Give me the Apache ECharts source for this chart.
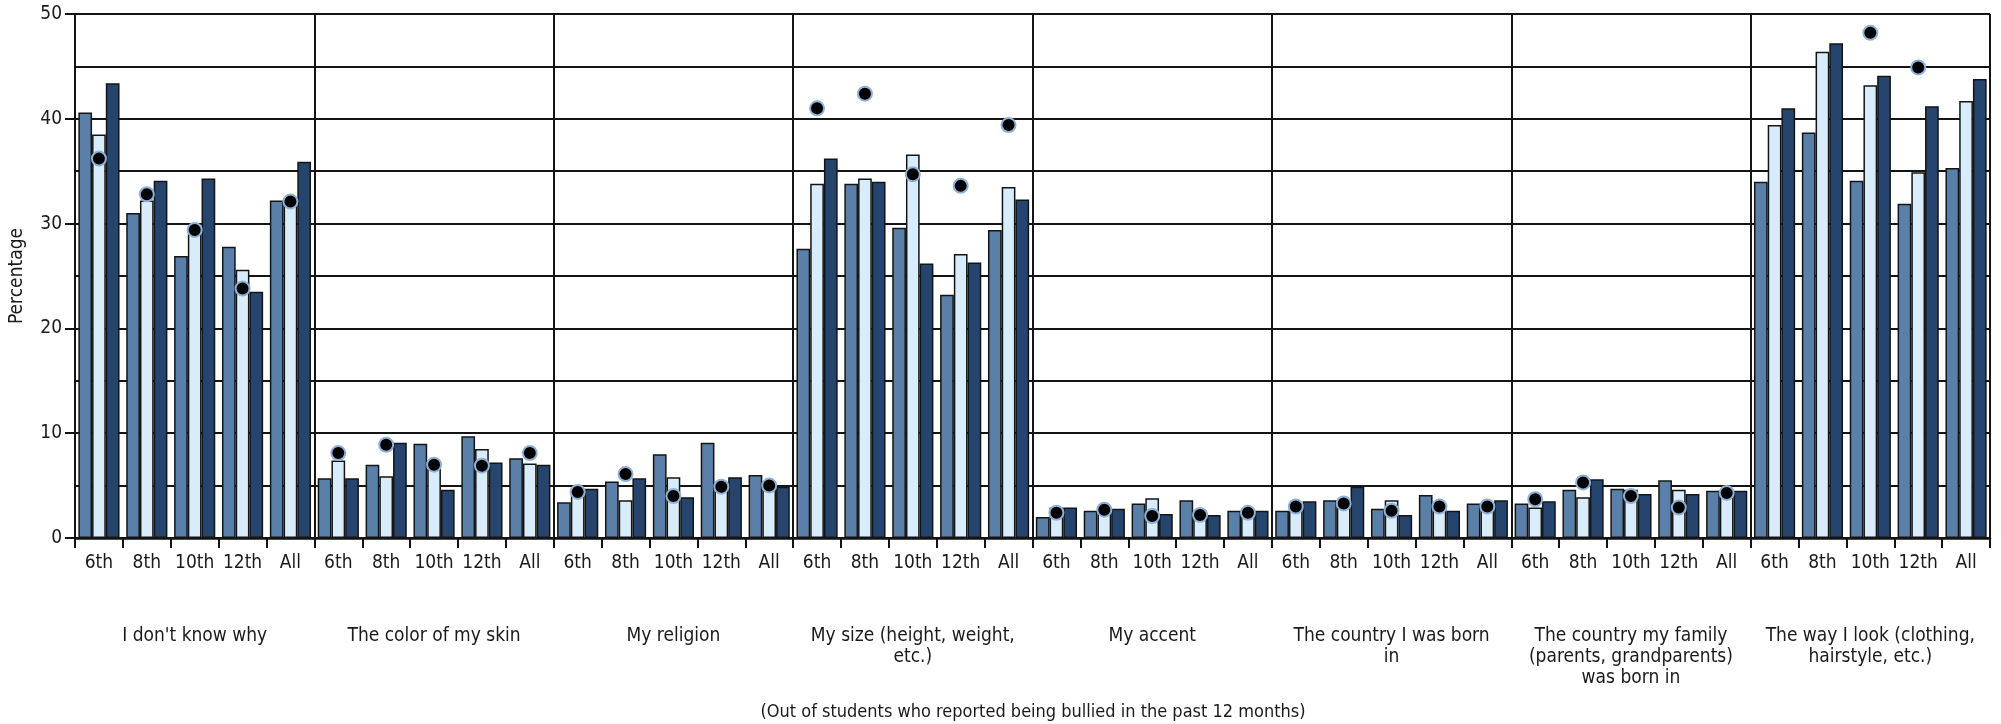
<!DOCTYPE html>
<html>
<head>
<meta charset="utf-8">
<script src="https://cdn.jsdelivr.net/npm/echarts@6/dist/echarts.min.js"></script>
<style>
  html, body { margin: 0; padding: 0; background: #fff; }
  #chart { width: 2001px; height: 724px; }
</style>
</head>
<body>
<div id="chart"></div>
<script>
var groups = [
  "I don't know why",
  "The color of my skin",
  "My religion",
  "My size (height, weight,\netc.)",
  "My accent",
  "The country I was born\nin",
  "The country my family\n(parents, grandparents)\nwas born in",
  "The way I look (clothing,\nhairstyle, etc.)"
];
var grades = ["6th", "8th", "10th", "12th", "All"];
var yTicks = [0, 10, 20, 30, 40, 50];

var seriesA = [
  40.6, 31.0, 26.9, 27.8, 32.2,
  5.7, 7.0, 9.0, 9.7, 7.6,
  3.4, 5.4, 8.0, 9.1, 6.0,
  27.6, 33.8, 29.6, 23.2, 29.4,
  2.0, 2.6, 3.3, 3.6, 2.6,
  2.6, 3.6, 2.8, 4.1, 3.3,
  3.3, 4.6, 4.7, 5.5, 4.5,
  34.0, 38.7, 34.1, 31.9, 35.3
];
var seriesB = [
  38.5, 32.2, 29.0, 25.6, 31.8,
  7.4, 5.9, 6.6, 8.5, 7.1,
  4.4, 3.6, 5.8, 5.3, 5.4,
  33.8, 34.3, 36.6, 27.1, 33.5,
  2.9, 2.6, 3.8, 2.6, 2.7,
  3.0, 3.6, 3.6, 3.2, 3.2,
  2.9, 3.9, 4.6, 4.6, 4.3,
  39.4, 46.4, 43.2, 34.9, 41.7
];
var seriesC = [
  43.4, 34.1, 34.3, 23.5, 35.9,
  5.7, 9.1, 4.6, 7.2, 7.0,
  4.7, 5.7, 3.9, 5.8, 4.9,
  36.2, 34.0, 26.2, 26.3, 32.3,
  2.9, 2.8, 2.3, 2.2, 2.6,
  3.5, 4.9, 2.2, 2.6, 3.6,
  3.5, 5.6, 4.2, 4.2, 4.5,
  41.0, 47.2, 44.1, 41.2, 43.8
];
var dots = [
  36.2, 32.8, 29.4, 23.8, 32.1,
  8.1, 8.9, 7.0, 6.9, 8.1,
  4.4, 6.1, 4.0, 4.9, 5.0,
  41.0, 42.4, 34.7, 33.6, 39.4,
  2.4, 2.7, 2.1, 2.2, 2.4,
  3.0, 3.3, 2.6, 3.0, 3.0,
  3.7, 5.3, 4.0, 2.9, 4.3,
  null, null, 48.2, 44.9, null
];

var categories = [];
groups.forEach(function (g) { grades.forEach(function (gr) { categories.push(gr); }); });

var FONT = "'Liberation Sans Narrow', 'DejaVu Sans Condensed', 'Liberation Sans', sans-serif";
var LINE = '#141414';

var barStyle = function (color) {
  return { color: color, borderColor: LINE, borderWidth: 1.5 };
};

var chart = echarts.init(document.getElementById('chart'), null, { renderer: 'canvas' });
chart.setOption({
  animation: false,
  backgroundColor: '#ffffff',
  textStyle: { fontFamily: FONT },
  title: {
    text: '(Out of students who reported being bullied in the past 12 months)',
    left: 1028, top: 698, textAlign: 'center',
    textStyle: { fontFamily: FONT, fontSize: 18, fontWeight: 'normal', color: '#1a1a1a' }
  },
  grid: { left: 65, right: 11, top: 14, bottom: 186, containLabel: false },
  xAxis: [
    {
      type: 'category', data: categories, position: 'bottom',
      axisLine: { show: true, lineStyle: { color: LINE, width: 2.5 } },
      axisTick: { show: true, interval: 0, length: 10, lineStyle: { color: LINE, width: 2 } },
      axisLabel: { interval: 0, margin: 16, fontSize: 19, color: '#1a1a1a', fontFamily: FONT },
      splitLine: { show: false }
    },
    {
      type: 'category', data: groups, position: 'bottom',
      axisLine: { show: false }, axisTick: { show: false },
      axisLabel: { interval: 0, margin: 88, fontSize: 19, lineHeight: 21, verticalAlign: 'top', color: '#1a1a1a', fontFamily: FONT },
      splitLine: { show: true, interval: 0, showMinLine: true, showMaxLine: true, lineStyle: { color: LINE, width: 2 } }
    }
  ],
  yAxis: {
    type: 'value', min: yTicks[0], max: yTicks[yTicks.length - 1], interval: 10,
    name: 'Percentage', nameLocation: 'middle', nameGap: 48, nameRotate: 90,
    nameTextStyle: { fontSize: 19, color: '#1a1a1a', fontFamily: FONT },
    axisLine: { show: true, lineStyle: { color: LINE, width: 2 } },
    axisTick: { show: true, length: 10, lineStyle: { color: LINE, width: 2 } },
    axisLabel: { margin: 13, fontSize: 19, color: '#1a1a1a', fontFamily: FONT },
    splitLine: { show: true, lineStyle: { color: LINE, width: 2 } },
    minorTick: { show: false, splitNumber: 2 },
    minorSplitLine: { show: true, lineStyle: { color: LINE, width: 2 } }
  },
  series: [
    { name: 'A', type: 'bar', data: seriesA, barGap: '0%', barCategoryGap: '14%', itemStyle: barStyle('#5a7fa8'), z: 2 },
    { name: 'B', type: 'bar', data: seriesB, itemStyle: barStyle('#d8ecfc'), z: 2 },
    { name: 'C', type: 'bar', data: seriesC, itemStyle: barStyle('#26456e'), z: 2 },
    { name: 'D', type: 'scatter', data: dots, symbol: 'circle', symbolSize: 14,
      itemStyle: { color: '#000000', borderColor: '#8fb1d8', borderWidth: 2, opacity: 1 }, z: 5 }
  ]
});
</script>
</body>
</html>
